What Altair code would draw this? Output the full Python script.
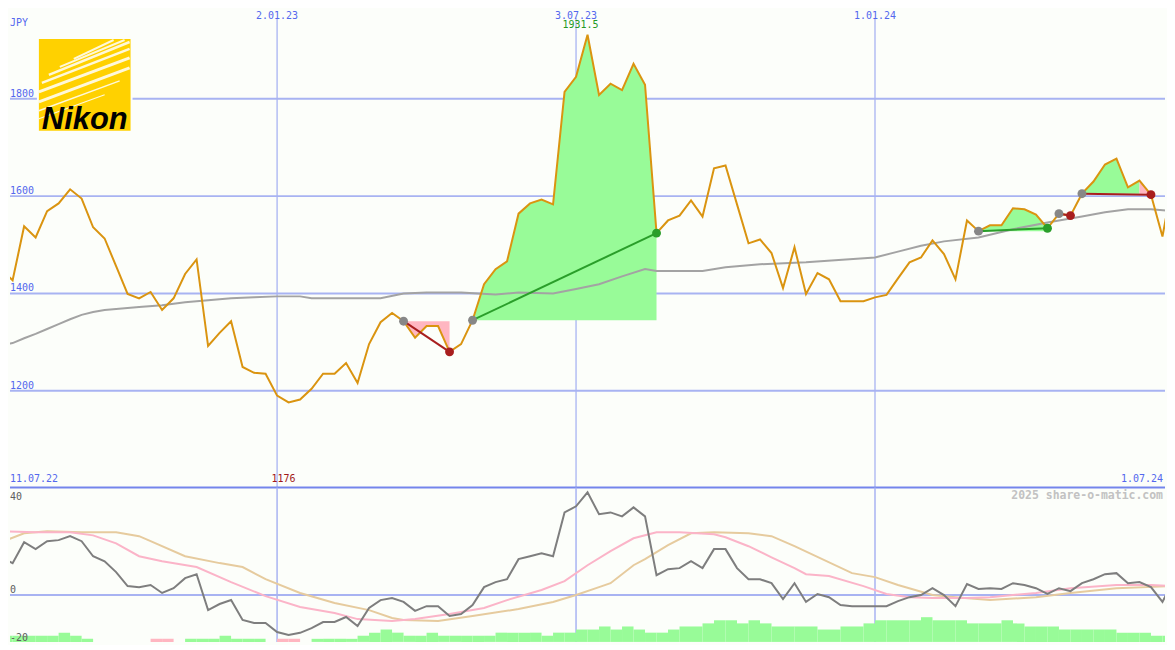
import altair as alt
import pandas as pd

# ---------------- chart values (weekly, week index 0 = 18.07.22) ----------------
price = [1450, 1427, 1538, 1515, 1569, 1585, 1614, 1595, 1536, 1513,
         1456, 1399, 1390, 1403, 1366, 1390, 1440, 1470, 1292, 1319,
         1343, 1249, 1237, 1235, 1190, 1176, 1182, 1204, 1235, 1235,
         1257, 1216, 1296, 1341, 1360, 1343, 1309, 1333, 1333, 1280,
         1296, 1345, 1419, 1450, 1466, 1564, 1585, 1593, 1583, 1814,
         1845, 1931.5, 1808, 1831, 1818, 1872, 1829, 1524, 1550, 1560,
         1591, 1558, 1657, 1663, 1583, 1503, 1511, 1483, 1411, 1495,
         1399, 1442, 1429, 1384, 1384, 1384, 1392, 1397, 1431, 1464,
         1474, 1509, 1481, 1429, 1550, 1528, 1540, 1540, 1575, 1573,
         1562, 1534, 1564, 1560, 1605, 1630, 1665, 1677, 1618, 1632,
         1603, 1517, 1644]

ma_week = [0, 1, 2, 3, 4, 5, 6, 7, 8, 9, 10, 11, 12, 14, 16, 18, 20, 22, 24, 26,
           27, 33, 35, 37, 40, 43, 45, 48, 50, 52, 54, 56, 57, 61, 63, 66, 70, 76,
           78, 80, 82, 85, 88, 91, 94, 96, 98, 100, 102]
ma_value = [1294, 1298, 1308, 1317, 1327, 1337, 1347, 1356, 1362, 1366, 1368, 1370,
            1372, 1376, 1382, 1386, 1390, 1392, 1394, 1394, 1390, 1390, 1400, 1402,
            1402, 1398, 1402, 1400, 1409, 1419, 1435, 1450, 1446, 1446, 1454, 1460,
            1464, 1474, 1486, 1498, 1507, 1515, 1532, 1546, 1558, 1567, 1573, 1573, 1569]

momentum = [14.3, 12.1, 20.0, 17.4, 20.4, 20.8, 22.3, 20.4, 14.7, 12.8,
            8.7, 3.4, 3.0, 3.8, 0.8, 2.6, 6.4, 7.9, -5.7, -3.4,
            -1.9, -9.4, -10.6, -10.6, -14.0, -15.1, -14.3, -12.5, -10.2, -10.2,
            -8.3, -11.7, -4.9, -1.9, -1.1, -2.6, -6.0, -4.2, -4.2, -7.9,
            -7.2, -3.8, 3.0, 4.9, 6.0, 13.6, 14.7, 15.8, 14.7, 31.3,
            33.6, 38.9, 30.6, 31.3, 29.8, 33.2, 29.8, 7.5, 9.8, 10.2,
            12.8, 10.2, 17.4, 17.4, 10.2, 6.0, 6.0, 4.5, -1.5, 4.5,
            -2.6, 0.4, -0.8, -3.8, -4.2, -4.2, -4.2, -4.2, -2.3, -0.8,
            0.0, 2.6, 0.0, -4.2, 4.2, 2.3, 2.6, 2.3, 4.5, 3.8,
            2.6, 0.4, 2.6, 1.5, 4.5, 6.0, 7.9, 8.3, 4.5, 4.9,
            3.0, -2.6, 6.0]

signal_week = [0, 3, 6, 8, 10, 12, 14, 17, 20, 23, 26, 29, 31, 34, 36, 39, 42, 44, 47, 49,
               51, 53, 55, 57, 59, 62, 63, 65, 67, 69, 70, 72, 75, 77, 79, 81, 84, 86, 90, 93,
               97, 100, 102]
signal_value = [24.2, 23.8, 23.8, 22.6, 19.6, 14.7, 12.8, 10.6, 4.9, -0.4,
                -4.5, -6.8, -9.1, -9.8, -9.1, -7.2, -4.9, -1.9, 1.9, 5.3,
                11.3, 16.6, 21.5, 23.8, 23.8, 23.0, 21.9, 18.5, 14.3, 10.2,
                7.9, 7.2, 3.4, 0.4, -0.8, -1.1, -1.1, -0.8, 0.8, 2.6,
                3.8, 3.8, 3.4]

slow_week = [0, 2, 4, 7, 10, 12, 13, 16, 19, 21, 23, 26, 29, 32, 34, 35, 38, 41, 45, 48,
             50, 52, 53, 55, 56, 58, 60, 62, 65, 67, 69, 74, 76, 78, 81, 83, 86, 90, 93, 97,
             102]
slow_value = [20.0, 23.4, 24.2, 23.8, 23.8, 22.3, 20.4, 14.7, 12.1, 10.6,
              6.0, 0.8, -3.0, -5.7, -8.7, -9.4, -9.8, -7.9, -5.3, -2.6,
              0.0, 3.0, 4.5, 11.3, 13.6, 18.9, 23.4, 23.8, 23.4, 22.3,
              18.5, 8.3, 6.8, 3.8, 0.0, -0.8, -1.9, -0.8, 0.8, 2.6,
              3.4]

volume_level = [2, 2, 2, 2, 2, 3, 2, 1, 0, 0, 0, 0, 0, 1, 1, 0, 1, 1, 1, 2,
                1, 1, 1, 0, 1, 1, 0, 1, 1, 1, 1, 2, 3, 4, 3, 2, 2, 3, 2, 2,
                2, 2, 2, 3, 3, 3, 3, 2, 3, 3, 4, 4, 5, 4, 5, 4, 3, 3, 4, 5,
                5, 6, 7, 7, 6, 7, 6, 5, 5, 5, 5, 4, 4, 5, 5, 6, 7, 7, 7, 7,
                8, 7, 7, 7, 6, 6, 6, 7, 6, 5, 5, 5, 4, 4, 4, 4, 4, 3, 3, 3,
                2, 2]
volume_negative_weeks = [13, 14, 24, 25]

trade_entry = [35, 41, 85, 92, 94]
trade_exit = [39, 57, 91, 93, 100]
open_entry = [102]
fill_start = [35, 41, 85, 94, 99]
fill_end = [39, 57, 91, 99, 100]
fill_trade = [0, 1, 2, 4, 4]
fill_kind = ["loss", "win", "win", "win", "loss"]

date_tick_week = [24, 50, 76]
date_tick_label = ["2.01.23", "3.07.23", "1.01.24"]
range_labels = ["11.07.22", "1.07.24"]
price_ticks = [1200, 1400, 1600, 1800]
osc_tick_zero = [0]
osc_tick_high = [40]
osc_tick_low = ["-20"]
unit_label = ["JPY"]
watermark = ["2025 share-o-matic.com"]

# ---------------- styles ----------------
MONO = "DejaVu Sans Mono"
BG = "#FCFEFA"
BLUE = "#5468EE"
GRID = "#A8B3F2"
SEP = "#7485EC"
ORANGE = "#DA9410"
MA_GRAY = "#A3A3A3"
GREEN_FILL = "#98FB98"
PINK_FILL = "#FFB6C1"
GREEN = "#2A9E2A"
RED = "#A81E1E"
DOT_GRAY = "#878787"

W, H1, H2 = 1159, 479, 155
XS = alt.Scale(domain=[0.7714, 101.222], nice=False, zero=False)
PS = alt.Scale(domain=[1001.4, 1982.25], nice=False, zero=False)
MS = alt.Scale(domain=[-17.74, 40.75], nice=False, zero=False)
VS = alt.Scale(domain=[0, 50], nice=False, zero=False)


def xenc(field="i"):
    return alt.X(f"{field}:Q", scale=XS, axis=None, title=None)


def penc(field="p"):
    return alt.Y(f"{field}:Q", scale=PS, axis=None, title=None)


def menc(field="m"):
    return alt.Y(f"{field}:Q", scale=MS, axis=None, title=None)


# ---------------- tables ----------------
weeks = list(range(len(price)))
df_price = pd.DataFrame({"i": weeks, "p": price})
df_ma = pd.DataFrame({"i": ma_week, "p": ma_value})

fill_rows = []
for k, (a, b, t, kind) in enumerate(zip(fill_start, fill_end, fill_trade, fill_kind)):
    lvl = price[trade_entry[t]]
    for w in range(a, b + 1):
        fill_rows.append({"i": w, "p": price[w], "lvl": lvl, "seg": k, "kind": kind})
df_fill = pd.DataFrame(fill_rows)

trade_rows, dot_rows = [], []
for k, (a, b) in enumerate(zip(trade_entry, trade_exit)):
    kind = "win" if price[b] > price[a] else "loss"
    trade_rows += [{"i": a, "p": price[a], "t": k, "kind": kind},
                   {"i": b, "p": price[b], "t": k, "kind": kind}]
    dot_rows += [{"i": a, "p": price[a], "kind": "entry"},
                 {"i": b, "p": price[b], "kind": kind}]
for a in open_entry:
    dot_rows.append({"i": a, "p": price[a], "kind": "entry"})
df_trade = pd.DataFrame(trade_rows)
df_dot = pd.DataFrame(dot_rows)

imin = min(weeks, key=lambda w: price[w])
imax = max(weeks, key=lambda w: price[w])
df_min = pd.DataFrame({"i": [imin], "t": [f"{price[imin]:g}"]})
df_max = pd.DataFrame({"i": [imax], "p": [price[imax]], "t": [f"{price[imax]:g}"]})

txt = dict(font=MONO, fontSize=10)

# ---------------- top panel ----------------
hgrid = alt.Chart(pd.DataFrame({"p": price_ticks})).mark_rule(color=GRID, strokeWidth=2).encode(y=penc())
vgrid = alt.Chart(pd.DataFrame({"i": date_tick_week})).mark_rule(color=GRID, strokeWidth=1.3).encode(
    x=xenc(), y=alt.value(8), y2=alt.value(H1))
date_lbl = alt.Chart(pd.DataFrame({"i": date_tick_week, "t": date_tick_label})).mark_text(
    align="center", baseline="top", color=BLUE, **txt).encode(x=xenc(), y=alt.value(1), text="t:N")
sep = alt.Chart(pd.DataFrame({"p": [PS.domain[0]]})).mark_rule(color=SEP, strokeWidth=2).encode(y=penc())


def by_kind(chart, kind):
    return chart.transform_filter(alt.datum.kind == kind)


fill_base = alt.Chart(df_fill)
fills = [by_kind(fill_base, k).mark_area(clip=True, opacity=1, color=c).encode(
    x=xenc(), y=penc(), y2="lvl:Q", detail="seg:N") for k, c in [("win", GREEN_FILL), ("loss", PINK_FILL)]]
ma_line = alt.Chart(df_ma).mark_line(color=MA_GRAY, strokeWidth=2, clip=True).encode(x=xenc(), y=penc())
price_line = alt.Chart(df_price).mark_line(color=ORANGE, strokeWidth=2, clip=True).encode(x=xenc(), y=penc())
trade_base = alt.Chart(df_trade)
trade_lines = [by_kind(trade_base, k).mark_line(strokeWidth=2, clip=True, color=c).encode(
    x=xenc(), y=penc(), detail="t:N") for k, c in [("win", GREEN), ("loss", RED)]]
dot_base = alt.Chart(df_dot)
dots = [by_kind(dot_base, k).mark_circle(size=80, opacity=1, clip=True, color=c).encode(x=xenc(), y=penc())
        for k, c in [("entry", DOT_GRAY), ("win", GREEN), ("loss", RED)]]

price_lbl = alt.Chart(pd.DataFrame({"p": price_ticks, "t": [str(v) for v in price_ticks]})).mark_text(
    align="left", baseline="bottom", color=BLUE, **txt).encode(x=alt.value(0), y=penc(), text="t:N")
unit_lbl = alt.Chart(pd.DataFrame({"t": unit_label})).mark_text(
    align="left", baseline="middle", color=BLUE, **txt).encode(x=alt.value(0), y=alt.value(13), text="t:N")
start_lbl = alt.Chart(pd.DataFrame({"t": range_labels[:1]})).mark_text(
    align="left", baseline="middle", color=BLUE, **txt).encode(x=alt.value(0), y=alt.value(470.5), text="t:N")
end_lbl = alt.Chart(pd.DataFrame({"t": range_labels[1:]})).mark_text(
    align="right", baseline="middle", color=BLUE, **txt).encode(x=alt.value(W - 2), y=alt.value(470.5), text="t:N")
min_lbl = alt.Chart(df_min).mark_text(align="center", baseline="middle", color="#A01818", dx=-5, **txt).encode(
    x=xenc(), y=alt.value(470.5), text="t:N")
max_lbl = alt.Chart(df_max).mark_text(align="center", baseline="middle", color="#259925", dx=-7, dy=-10, **txt).encode(
    x=xenc(), y=penc(), text="t:N")

# logo (decoration, pixel placed)
one = pd.DataFrame({"a": [0]})
logo = [
    alt.Chart(one).mark_rect(color=BG).encode(x=alt.value(27), x2=alt.value(123), y=alt.value(27), y2=alt.value(123)),
    alt.Chart(one).mark_rect(color="#FFD100").encode(x=alt.value(29), x2=alt.value(121), y=alt.value(29), y2=alt.value(121)),
]
streaks = [((29, 92), (120, 58), 3.0), ((29, 82), (120, 48), 3.0), ((32, 73), (120, 39), 2.5),
           ((39, 65), (120, 32), 2.5), ((50, 57), (115, 30), 2.0), ((64, 49), (104, 30), 2.0),
           ((29, 101), (110, 71), 1.5), ((29, 109), (95, 85), 1.2)]
for (xa, ya), (xb, yb), sw in streaks:
    logo.append(alt.Chart(one).mark_rule(color="white", strokeWidth=sw, opacity=0.85).encode(
        x=alt.value(xa), x2=alt.value(xb), y=alt.value(ya), y2=alt.value(yb)))
logo.append(alt.Chart(pd.DataFrame({"t": ["Nikon"]})).mark_text(
    font="Liberation Sans", fontSize=31, fontWeight="bold", fontStyle="italic", color="black",
    align="center", baseline="alphabetic").encode(x=alt.value(75), y=alt.value(119), text="t:N"))

top = alt.layer(hgrid, vgrid, *fills, ma_line, price_line, *trade_lines, *dots, sep,
                date_lbl, price_lbl, unit_lbl, start_lbl, end_lbl, min_lbl, max_lbl, *logo
                ).properties(width=W, height=H1)

# ---------------- bottom panel ----------------
df_mom = pd.DataFrame({"i": weeks, "m": momentum})
df_sig = pd.DataFrame({"i": signal_week, "m": signal_value})
df_slow = pd.DataFrame({"i": slow_week, "m": slow_value})
vw = list(range(len(volume_level)))
df_vol = pd.DataFrame({"i": vw, "i2": [w + 1 for w in vw], "lvl": volume_level,
                       "kind": ["neg" if w in volume_negative_weeks else "pos" for w in vw]})

vgrid2 = alt.Chart(pd.DataFrame({"i": date_tick_week})).mark_rule(color=GRID, strokeWidth=1.5).encode(x=xenc())
zero = alt.Chart(pd.DataFrame({"m": osc_tick_zero})).mark_rule(color=GRID, strokeWidth=2).encode(y=menc())
vol_base = alt.Chart(df_vol)
bars = [by_kind(vol_base, k).mark_rect(clip=True, color=c).encode(
    x=xenc(), x2="i2:Q", y=alt.Y("lvl:Q", scale=VS, axis=None, title=None), y2=alt.datum(0))
    for k, c in [("pos", GREEN_FILL), ("neg", PINK_FILL)]]
slow_line = alt.Chart(df_slow).mark_line(color="#E6CB9E", strokeWidth=2, clip=True).encode(x=xenc(), y=menc())
sig_line = alt.Chart(df_sig).mark_line(color="#FBB4C8", strokeWidth=2, clip=True).encode(x=xenc(), y=menc())
mom_line = alt.Chart(df_mom).mark_line(color="#7E7E7E", strokeWidth=2, clip=True).encode(x=xenc(), y=menc())
osc_lbl = alt.Chart(pd.DataFrame({"m": osc_tick_zero, "t": [str(v) for v in osc_tick_zero]})).mark_text(
    align="left", baseline="bottom", color="#5E5E5E", **txt).encode(x=alt.value(0), y=menc(), text="t:N")
osc_lbl_hi = alt.Chart(pd.DataFrame({"m": osc_tick_high, "t": [str(v) for v in osc_tick_high]})).mark_text(
    align="left", baseline="top", color="#5E5E5E", dy=3, **txt).encode(x=alt.value(0), y=menc(), text="t:N")
osc_lbl_lo = alt.Chart(pd.DataFrame({"t": osc_tick_low})).mark_text(
    align="left", baseline="bottom", color="#5E5E5E", **txt).encode(x=alt.value(0), y=alt.value(H2 + 1), text="t:N")
wm = alt.Chart(pd.DataFrame({"t": watermark})).mark_text(
    align="right", baseline="middle", color="#C2C2C2", font=MONO, fontSize=11.5, fontWeight="bold").encode(
    x=alt.value(W - 2), y=alt.value(9), text="t:N")

bottom = alt.layer(vgrid2, zero, *bars, slow_line, sig_line, mom_line, osc_lbl, osc_lbl_hi, osc_lbl_lo, wm
                   ).resolve_scale(y="independent").properties(width=W, height=H2)

chart = alt.vconcat(top, bottom, spacing=0, bounds="flush").properties(
    padding=0, background=BG).configure_view(stroke="transparent")

chart.save("out.html", embed_options={"renderer": "svg", "actions": False})
